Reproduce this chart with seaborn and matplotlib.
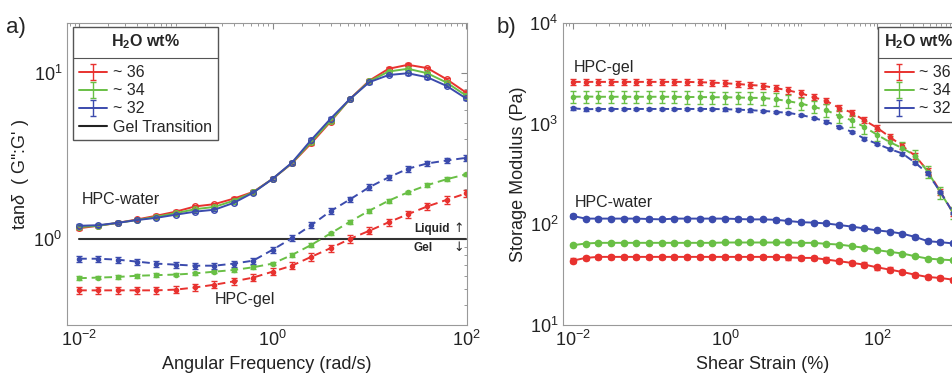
import numpy as np
import pandas as pd
import matplotlib
matplotlib.use('Agg')
import matplotlib.pyplot as plt
import seaborn as sns
from matplotlib import ticker
from matplotlib.lines import Line2D
from matplotlib.transforms import IdentityTransform

# samples (legend labels) and their colours
water = ['~ 36', '~ 34', '~ 32']
colors = ['#e8322f', '#69bf45', '#3b4bad']

# a) frequency sweep: tan(delta) = G''/G'
freq = np.logspace(-2, 2, 21)
tan_water_36 = [1.16, 1.20, 1.25, 1.31, 1.38, 1.46, 1.57, 1.62, 1.75, 1.92, 2.30,
                2.85, 3.77, 5.09, 6.97, 8.99, 10.6, 11.2, 10.7, 9.16, 7.62]
tan_water_34 = [1.18, 1.20, 1.25, 1.30, 1.36, 1.43, 1.51, 1.56, 1.70, 1.91, 2.30,
                2.86, 3.85, 5.15, 6.95, 8.90, 10.2, 10.6, 9.96, 8.75, 7.31]
tan_water_32 = [1.20, 1.21, 1.25, 1.30, 1.34, 1.40, 1.46, 1.50, 1.65, 1.90, 2.30,
                2.88, 3.95, 5.30, 6.97, 8.80, 9.72, 9.96, 9.42, 8.35, 7.03]
tan_gel_36 = [0.49, 0.49, 0.49, 0.49, 0.49, 0.495, 0.51, 0.53, 0.555, 0.585, 0.635,
              0.69, 0.78, 0.88, 1.00, 1.12, 1.26, 1.41, 1.57, 1.72, 1.88]
tan_gel_34 = [0.58, 0.585, 0.59, 0.60, 0.605, 0.61, 0.62, 0.635, 0.65, 0.675, 0.71,
              0.80, 0.92, 1.08, 1.27, 1.48, 1.70, 1.91, 2.11, 2.29, 2.45]
tan_gel_32 = [0.76, 0.76, 0.75, 0.73, 0.71, 0.70, 0.69, 0.69, 0.71, 0.74, 0.86,
              1.01, 1.21, 1.47, 1.73, 2.05, 2.35, 2.65, 2.85, 2.97, 3.08]
# relative error bars (36, 34, 32)
tan_water_err = [0.02, 0.015, 0.02]
tan_gel_err = [0.05, 0.025, 0.04]

# b) strain sweep: storage modulus G' (Pa)
strain = np.logspace(-2, 3, 31)
mod_gel_36 = [2600, 2600, 2600, 2600, 2600, 2600, 2600, 2600, 2600, 2600,
              2580, 2560, 2520, 2480, 2420, 2380, 2260, 2140, 2000, 1830,
              1680, 1440, 1290, 1080, 910, 740, 600, 480, 340, 210, 130]
mod_gel_34 = [1850, 1860, 1850, 1850, 1850, 1850, 1850, 1850, 1850, 1840,
              1840, 1830, 1830, 1820, 1806, 1800, 1750, 1672, 1585, 1468,
              1360, 1193, 1080, 927, 776, 656, 571, 482, 333, 207, 130]
mod_gel_32 = [1420, 1390, 1400, 1400, 1400, 1400, 1400, 1400, 1400, 1400,
              1400, 1400, 1390, 1380, 1360, 1340, 1310, 1280, 1220, 1140,
              1050, 930, 830, 710, 630, 560, 505, 410, 320, 210, 130]
mod_water_36 = [43.6, 46.4, 47.5, 47.5, 47.5, 47.5, 47.5, 47.5, 47.5, 47.5,
                47.5, 47.5, 47.5, 47.5, 47.5, 47.5, 47.5, 47, 46.4, 46.4,
                44.7, 43, 41.4, 39.8, 37.4, 35.5, 33.6, 31.6, 30, 29.3, 28.2]
mod_water_34 = [62, 64.5, 65.5, 65.5, 65.5, 65.5, 65.5, 65.5, 65.5, 65.5,
                65.5, 65.5, 66, 66, 66, 66, 66, 66, 65.5, 65.5,
                64, 63, 60.7, 58.5, 55.4, 53.3, 51.3, 48.2, 45.7, 44.7, 44]
mod_water_32 = [121, 114, 114, 114, 114, 114, 113, 112, 114, 114,
                114, 114, 114, 113, 112, 112, 111, 108, 105, 104,
                102, 98.5, 95, 91, 87, 84.5, 80.7, 75, 68, 66.5, 64.6]
mod_gel_err = [0.07, 0.14, 0.03]
mod_water_err = [0.05, 0.02, 0.04]

sns.set_theme(style='white')
plt.rcParams['font.family'] = ['Liberation Sans', 'DejaVu Sans']
plt.rcParams['mathtext.fontset'] = 'custom'
plt.rcParams['mathtext.rm'] = 'Liberation Sans'
plt.rcParams['mathtext.it'] = 'Liberation Sans:italic'
plt.rcParams['mathtext.bf'] = 'Liberation Sans:bold'


def draw_series(ax, x, series, rel_err, dashed, open_marker, ms):
    """Lines via seaborn, error bars via matplotlib."""
    df = pd.concat([pd.DataFrame({'x': x, 'y': s, 'water': w})
                    for s, w in zip(series, water)])
    n0 = len(ax.lines)
    sns.lineplot(data=df, x='x', y='y', hue='water', hue_order=water,
                 palette=dict(zip(water, colors)), marker='o', markersize=ms,
                 linewidth=1.4, linestyle='--' if dashed else '-',
                 estimator=None, sort=False, legend=False, ax=ax)
    for line in ax.lines[n0:]:
        line.set_markeredgecolor(line.get_color())
        line.set_markeredgewidth(1.0)
        if open_marker:
            line.set_markerfacecolor('none')
        if dashed:
            line.set_dashes((4, 2.5))
    for s, c, e in zip(series, colors, rel_err):
        s = np.array(s)
        ax.errorbar(x, s, yerr=s * e, fmt='none', ecolor=c, elinewidth=1.0,
                    capsize=2, capthick=1.0, zorder=1.5)


def style_axes(ax):
    ax.set_xscale('log')
    ax.set_yscale('log')
    ax.xaxis.set_minor_locator(ticker.LogLocator(base=10, subs=np.arange(1, 10), numticks=30))
    ax.yaxis.set_minor_locator(ticker.LogLocator(base=10, subs=np.arange(1, 10), numticks=30))
    ax.yaxis.set_minor_formatter(ticker.NullFormatter())
    ax.xaxis.set_minor_formatter(ticker.NullFormatter())
    ax.tick_params(which='both', direction='in', top=True, right=True,
                   color='#888888', labelcolor='#222222', labelsize=13)
    ax.tick_params(which='major', length=4, width=0.8)
    ax.tick_params(which='minor', length=2.2, width=0.6)
    for sp in ax.spines.values():
        sp.set_color('#999999')
        sp.set_linewidth(0.8)


def add_legend(ax, handles, labels, anchor):
    leg = ax.legend(handles, labels, title=r'H$_{\mathbf{2}}$O wt%', loc='upper left',
                    bbox_to_anchor=anchor, frameon=True, fancybox=False,
                    edgecolor='#555555', framealpha=1, fontsize=11.5,
                    title_fontproperties={'weight': 'bold', 'size': 11.5},
                    handlelength=1.8, handletextpad=0.35, borderpad=0.35,
                    labelspacing=0.2, borderaxespad=0)
    leg._legend_box.sep = 10
    return leg


fig = plt.figure(figsize=(9.53, 3.81), dpi=100)
ax1 = fig.add_axes([67 / 953, 56 / 381, 400 / 953, 302 / 381])
ax2 = fig.add_axes([563 / 953, 56 / 381, 400 / 953, 302 / 381])

# ---- a) tan delta vs angular frequency
draw_series(ax1, freq, [tan_gel_36, tan_gel_34, tan_gel_32], tan_gel_err,
            dashed=True, open_marker=False, ms=3)
draw_series(ax1, freq, [tan_water_36, tan_water_34, tan_water_32], tan_water_err,
            dashed=False, open_marker=True, ms=4)
ax1.plot([freq[0], freq[-1]], [1, 1], color='#333333', lw=1.5, zorder=1)
style_axes(ax1)
ax1.set_xlim(10 ** -2.124, 10 ** 2.01)
ax1.set_ylim(0.303, 20)
ax1.set_xticks([1e-2, 1e0, 1e2])
ax1.set_yticks([1e0, 1e1])
ax1.set_xlabel('Angular Frequency (rad/s)', fontsize=13, color='#222222', labelpad=4)
ax1.set_ylabel(r"tan$\delta$  ( G'':G' )", fontsize=13, color='#222222', labelpad=2)

ax1.text(0.0375, 0.414, 'HPC-water', transform=ax1.transAxes, fontsize=11.5, va='center')
ax1.text(0.37, 0.086, 'HPC-gel', transform=ax1.transAxes, fontsize=11.5, va='center')
ax1.text(0.8675, 0.318, 'Liquid', transform=ax1.transAxes, fontsize=8.5,
         fontweight='bold', va='center')
ax1.text(0.8675, 0.255, 'Gel', transform=ax1.transAxes, fontsize=8.5,
         fontweight='bold', va='center')
ax1.text(0.979, 0.318, '\u2191', transform=ax1.transAxes, fontsize=9,
         ha='center', va='center', family=['DejaVu Sans'])
ax1.text(0.979, 0.255, '\u2193', transform=ax1.transAxes, fontsize=9,
         ha='center', va='center', family=['DejaVu Sans'])

proxies1 = [ax1.errorbar([np.nan], [np.nan], yerr=[1], color=c, lw=1.4,
                         capsize=2, elinewidth=1) for c in colors]
proxies1.append(Line2D([], [], color='#222222', lw=1.5))
leg1 = add_legend(ax1, proxies1, water + ['Gel Transition'], (0.015, 0.987))

# ---- b) storage modulus vs shear strain
draw_series(ax2, strain, [mod_gel_36, mod_gel_34, mod_gel_32], mod_gel_err,
            dashed=True, open_marker=False, ms=3)
draw_series(ax2, strain, [mod_water_36, mod_water_34, mod_water_32], mod_water_err,
            dashed=False, open_marker=False, ms=4.5)
style_axes(ax2)
ax2.set_xlim(10 ** -2.13, 10 ** 3.13)
ax2.set_ylim(10, 1e4)
ax2.set_xticks([1e-2, 1e0, 1e2])
ax2.set_yticks([1e1, 1e2, 1e3, 1e4])
ax2.set_xlabel('Shear Strain (%)', fontsize=13, color='#222222', labelpad=4)
ax2.set_ylabel('Storage Modulus (Pa)', fontsize=13, color='#222222', labelpad=2)
ax2.text(0.027, 0.854, 'HPC-gel', transform=ax2.transAxes, fontsize=11.5, va='center')
ax2.text(0.03, 0.407, 'HPC-water', transform=ax2.transAxes, fontsize=11.5, va='center')

proxies2 = [ax2.errorbar([np.nan], [np.nan], yerr=[1], color=c, lw=1.4,
                         capsize=2, elinewidth=1) for c in colors]
leg2 = add_legend(ax2, proxies2, water, (0.7875, 0.987))

fig.text(0.006, 1 - 33 / 381, 'a)', fontsize=16, va='baseline')
fig.text(497 / 953, 1 - 33 / 381, 'b)', fontsize=16, va='baseline')

# separator line under the legend titles
fig.canvas.draw()
for leg in (leg1, leg2):
    bb = leg.get_window_extent()
    tb = leg.get_title().get_window_extent()
    y = tb.y0 - 5 * fig.dpi / 72
    fig.add_artist(Line2D([bb.x0, bb.x1], [y, y], transform=IdentityTransform(),
                          color='#555555', lw=0.8))

fig.savefig('out.png', dpi=100)
